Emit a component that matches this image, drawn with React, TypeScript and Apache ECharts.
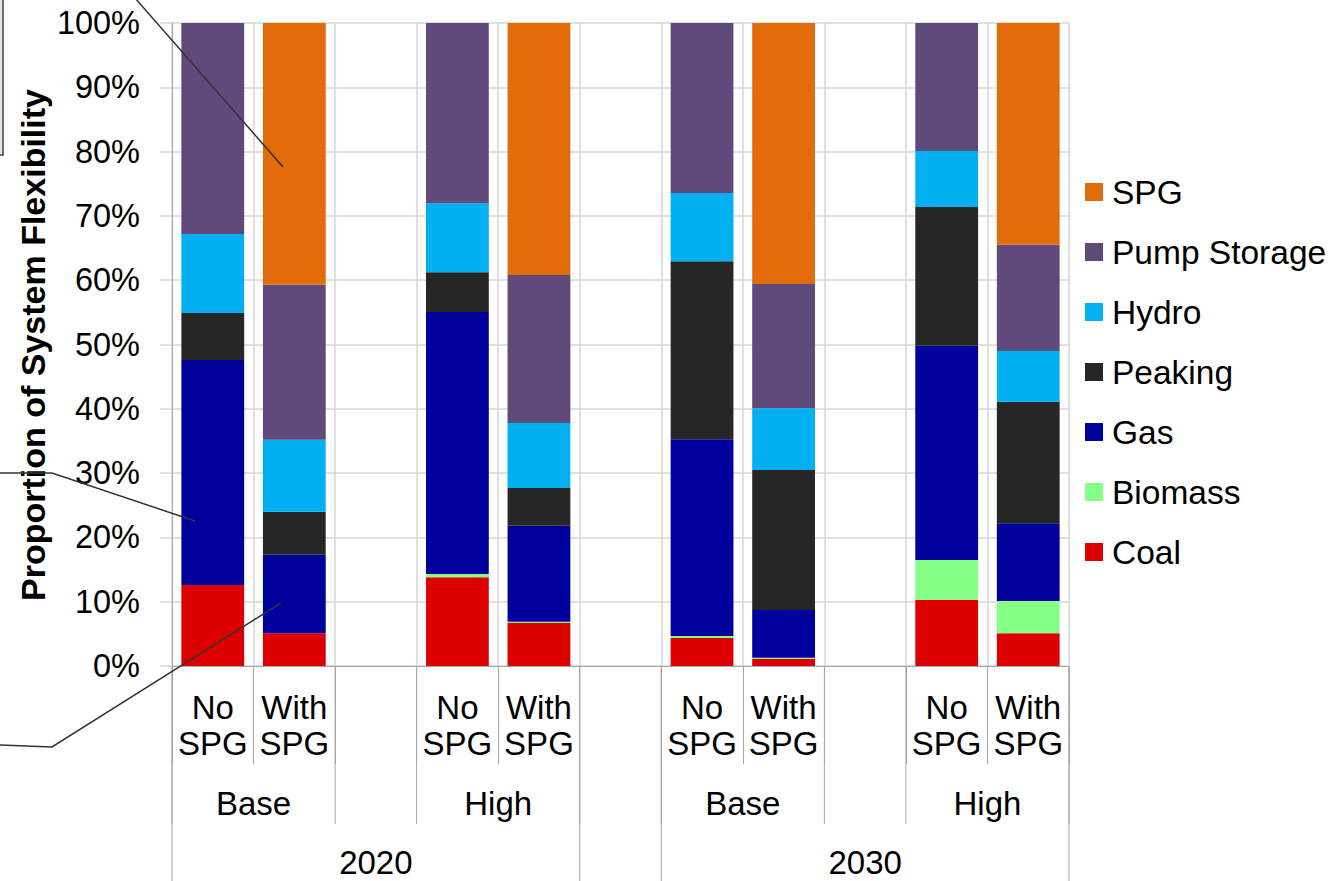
import { useEffect, useRef } from 'react';
import * as echarts from 'echarts';

// Category slots along the x axis (empty strings are spacer slots between groups)
const categories = ['No SPG', 'With SPG', '', 'No SPG', 'With SPG', '', 'No SPG', 'With SPG', '', 'No SPG', 'With SPG'];

// Second-level (case) and third-level (year) groupings, as category index spans
const caseLabels = ['Base', 'High', 'Base', 'High'];
const caseSpans: [number, number][] = [[0, 1], [3, 4], [6, 7], [9, 10]];
const yearLabels = ['2020', '2030'];
const yearSpans: [number, number][] = [[0, 4], [6, 10]];

// Share of system flexibility (%) by resource
const coal = [12.6, 5.1, null, 13.8, 6.7, null, 4.35, 1.1, null, 10.3, 5.1];
const biomass = [0, 0, null, 0.5, 0.2, null, 0.3, 0.2, null, 6.2, 5.0];
const gas = [35.0, 12.2, null, 40.75, 14.9, null, 30.6, 7.4, null, 33.3, 12.1];
const peaking = [7.3, 6.7, null, 6.2, 5.9, null, 27.7, 21.8, null, 21.6, 18.9];
const hydro = [12.3, 11.2, null, 10.7, 10.1, null, 10.6, 9.6, null, 8.7, 7.9];
const pumpStorage = [32.8, 24.1, null, 28.05, 23.0, null, 26.45, 19.3, null, 19.9, 16.5];
const spg = [0, 40.7, null, 0, 39.2, null, 0, 40.6, null, 0, 34.5];

const seriesDefs = [
  { name: 'Coal', data: coal, color: '#DC0000' },
  { name: 'Biomass', data: biomass, color: '#86FF86' },
  { name: 'Gas', data: gas, color: '#00009C' },
  { name: 'Peaking', data: peaking, color: '#262626' },
  { name: 'Hydro', data: hydro, color: '#00B0F0' },
  { name: 'Pump Storage', data: pumpStorage, color: '#604A7B' },
  { name: 'SPG', data: spg, color: '#E26B0A' },
];
const legendOrder = ['SPG', 'Pump Storage', 'Hydro', 'Peaking', 'Gas', 'Biomass', 'Coal'];

const yTickValues = [0, 10, 20, 30, 40, 50, 60, 70, 80, 90, 100];

const FONT = '"Liberation Sans", Arial, Helvetica, sans-serif';
const AXIS_GRAY = '#a6a6a6';
const GRID_GRAY = '#d6d6d6';

export default function App() {
  const ref = useRef<HTMLDivElement>(null);

  useEffect(() => {
    if (!ref.current) return;
    const chart = echarts.init(ref.current, null, { renderer: 'svg' });

    chart.setOption({
      animation: false,
      backgroundColor: '#ffffff',
      textStyle: { fontFamily: FONT, color: '#000' },
      grid: { left: 172, right: 269, top: 23, bottom: 215, containLabel: false },
      legend: {
        orient: 'vertical',
        left: 1080,
        top: 169,
        data: legendOrder,
        icon: 'rect',
        itemWidth: 18,
        itemHeight: 18,
        itemGap: 24,
        textStyle: { fontSize: 33.5, lineHeight: 36, color: '#000', fontFamily: FONT, padding: [0, 0, 0, 4] },
        selectedMode: false,
      },
      xAxis: {
        type: 'category',
        data: categories,
        axisLine: { show: true, lineStyle: { color: AXIS_GRAY, width: 1 } },
        axisTick: { show: true, interval: 0, length: 98, lineStyle: { color: AXIS_GRAY, width: 1 } },
        axisLabel: {
          interval: 0,
          fontSize: 33,
          lineHeight: 36,
          margin: 23,
          color: '#000',
          fontFamily: FONT,
          formatter: (v: string) => v.replace(' ', '\n'),
        },
        splitLine: { show: true, interval: 0, lineStyle: { color: GRID_GRAY, width: 1.5 } },
      },
      yAxis: {
        type: 'value',
        min: yTickValues[0],
        max: yTickValues[yTickValues.length - 1],
        interval: 10,
        axisLine: { show: true, lineStyle: { color: AXIS_GRAY, width: 1 } },
        axisTick: { show: true, length: 12, lineStyle: { color: GRID_GRAY, width: 1.5 } },
        axisLabel: { fontSize: 32.5, margin: 32, color: '#000', fontFamily: FONT, formatter: '{value}%' },
        splitLine: { show: true, lineStyle: { color: GRID_GRAY, width: 1.5 } },
      },
      series: seriesDefs.map((s) => ({
        name: s.name,
        type: 'bar',
        stack: 'share',
        data: s.data,
        barCategoryGap: '23%',
        itemStyle: { color: s.color },
        emphasis: { disabled: true },
      })),
    });

    // Multi-level category labels and separators, placed from the axis scale
    const px = (i: number) => chart.convertToPixel({ xAxisIndex: 0 }, i) as number;
    const y0 = chart.convertToPixel({ yAxisIndex: 0 }, 0) as number;
    const bw = px(1) - px(0);
    const edge = (i: number) => px(0) + i * bw - bw / 2;
    const H = 881;

    const elements: any[] = [];
    const vline = (x: number, y2: number) => ({
      type: 'line',
      silent: true,
      z: 5,
      shape: { x1: x, y1: y0, x2: x, y2 },
      style: { stroke: AXIS_GRAY, lineWidth: 1 },
    });
    const label = (text: string, x: number, y: number) => ({
      type: 'text',
      silent: true,
      z: 5,
      x,
      y,
      style: { text, fill: '#000', fontSize: 33, fontFamily: FONT, align: 'center', verticalAlign: 'middle' },
    });

    caseSpans.forEach(([a, b], k) => {
      elements.push(vline(edge(a), y0 + 158));
      elements.push(vline(edge(b + 1), y0 + 158));
      elements.push(label(caseLabels[k], (edge(a) + edge(b + 1)) / 2, y0 + 137));
    });
    yearSpans.forEach(([a, b], k) => {
      elements.push(vline(edge(a), H));
      elements.push(vline(edge(b + 1), H));
      elements.push(label(yearLabels[k], (edge(a) + edge(b + 1)) / 2, y0 + 196));
    });

    // Axis title
    elements.push({
      type: 'text',
      silent: true,
      z: 5,
      x: 33,
      y: 345,
      rotation: Math.PI / 2,
      style: {
        text: 'Proportion of System Flexibility',
        fill: '#000',
        fontSize: 34,
        fontWeight: 'bold',
        fontFamily: FONT,
        align: 'center',
        verticalAlign: 'middle',
      },
    });

    // Callout box edge and leader lines, drawn over the bars
    elements.push({
      type: 'rect',
      silent: true,
      z: 20,
      shape: { x: -20, y: -20, width: 23, height: 175 },
      style: { fill: '#e6e6e6', stroke: '#404040', lineWidth: 1.5 },
    });
    elements.push({
      type: 'line',
      silent: true,
      z: 20,
      shape: { x1: 128, y1: -10, x2: 283, y2: 167 },
      style: { stroke: '#333', lineWidth: 1.5 },
    });
    elements.push({
      type: 'polyline',
      silent: true,
      z: 20,
      shape: { points: [[0, 473], [52, 473], [195, 521]] },
      style: { stroke: '#333', lineWidth: 1.5, fill: null },
    });
    elements.push({
      type: 'polyline',
      silent: true,
      z: 20,
      shape: { points: [[0, 745], [52, 747], [281, 603]] },
      style: { stroke: '#333', lineWidth: 1.5, fill: null },
    });

    chart.setOption({ graphic: elements });

    return () => chart.dispose();
  }, []);

  return (
    <div
      ref={ref}
      style={{ position: 'fixed', left: 0, top: 0, width: 1338, height: 881, background: '#fff' }}
    />
  );
}
